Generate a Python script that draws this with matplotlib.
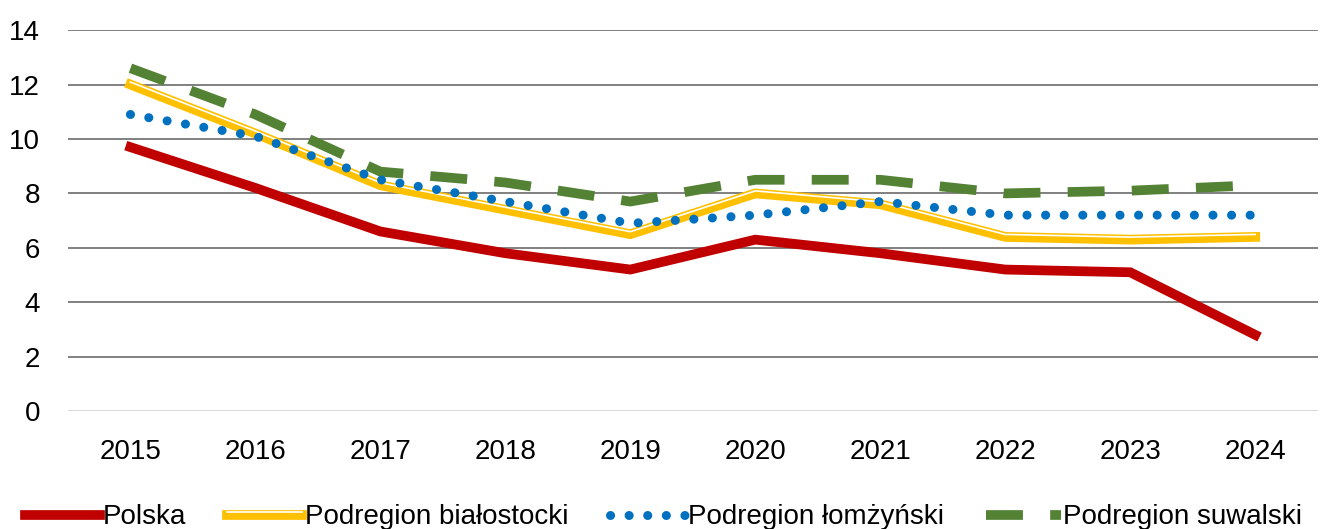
import matplotlib.pyplot as plt
import matplotlib.patheffects as pe
from matplotlib.lines import Line2D

years = ['2015', '2016', '2017', '2018', '2019', '2020', '2021', '2022', '2023', '2024']
polska = [9.7, 8.2, 6.6, 5.8, 5.2, 6.3, 5.8, 5.2, 5.1, 2.8]
bialostocki = [12.0, 10.2, 8.3, 7.4, 6.5, 8.0, 7.6, 6.4, 6.3, 6.4]
lomzynski = [10.9, 10.1, 8.5, 7.7, 6.9, 7.2, 7.7, 7.2, 7.2, 7.2]
suwalski = [12.6, 10.9, 8.8, 8.4, 7.7, 8.5, 8.5, 8.0, 8.1, 8.3]

labels = ['Polska', 'Podregion białostocki', 'Podregion łomżyński', 'Podregion suwalski']

plt.rcParams['font.family'] = ['Liberation Sans', 'DejaVu Sans']

fig = plt.figure(figsize=(13.27, 5.29), dpi=100)
ax = fig.add_axes([0.0512, 0.223, 0.9418, 0.72])

x = range(len(years))

# linie siatki
for v in range(2, 15, 2):
    ax.axhline(v, color='#808080', lw=1.4, zorder=0)
ax.axhline(0, color='#d9d9d9', lw=1.4, zorder=0)

yellow = '#ffc000'
# linia podwójna (gruba na dole + cienka u góry) jak w Excelu
dbl = [pe.Stroke(linewidth=7, foreground=yellow),
       pe.Stroke(linewidth=1.2, foreground='white', offset=(0, 1.8))]

red_kw = dict(color='#c00000', lw=7, solid_joinstyle='miter')
yel_kw = dict(color=yellow, lw=7, path_effects=dbl)
blue_kw = dict(color='#0070c0', lw=6.5, linestyle=(0, (0.01, 2.05)), dash_capstyle='round')
green_kw = dict(color='#548235', lw=7, linestyle=(0, (3.8, 2.8)), dash_capstyle='butt')

ax.plot(x, polska, zorder=3, **red_kw)
ax.plot(x, bialostocki, zorder=2, **yel_kw)
ax.plot(x, lomzynski, zorder=4, **blue_kw)
ax.plot(x, suwalski, zorder=1, **green_kw)

ax.set_xlim(-0.5, len(years) - 0.5)
ax.set_ylim(0, 14)
ax.set_yticks(range(0, 15, 2))
ax.set_xticks(list(x))
ax.set_xticklabels(years)
ax.tick_params(axis='both', length=0, labelsize=20, colors='black')
ax.tick_params(axis='x', pad=20)
ax.tick_params(axis='y', pad=20)
for s in ax.spines.values():
    s.set_visible(False)

handles = [Line2D([], [], **red_kw), Line2D([], [], **yel_kw),
           Line2D([], [], **blue_kw), Line2D([], [], **green_kw)]
fig.legend(handles, labels, loc='center', bbox_to_anchor=(0.5, 0.022), ncol=4,
           frameon=False, fontsize=20, handlelength=2.7, handletextpad=0.1,
           columnspacing=1.5)

fig.savefig('out.png', dpi=100)
